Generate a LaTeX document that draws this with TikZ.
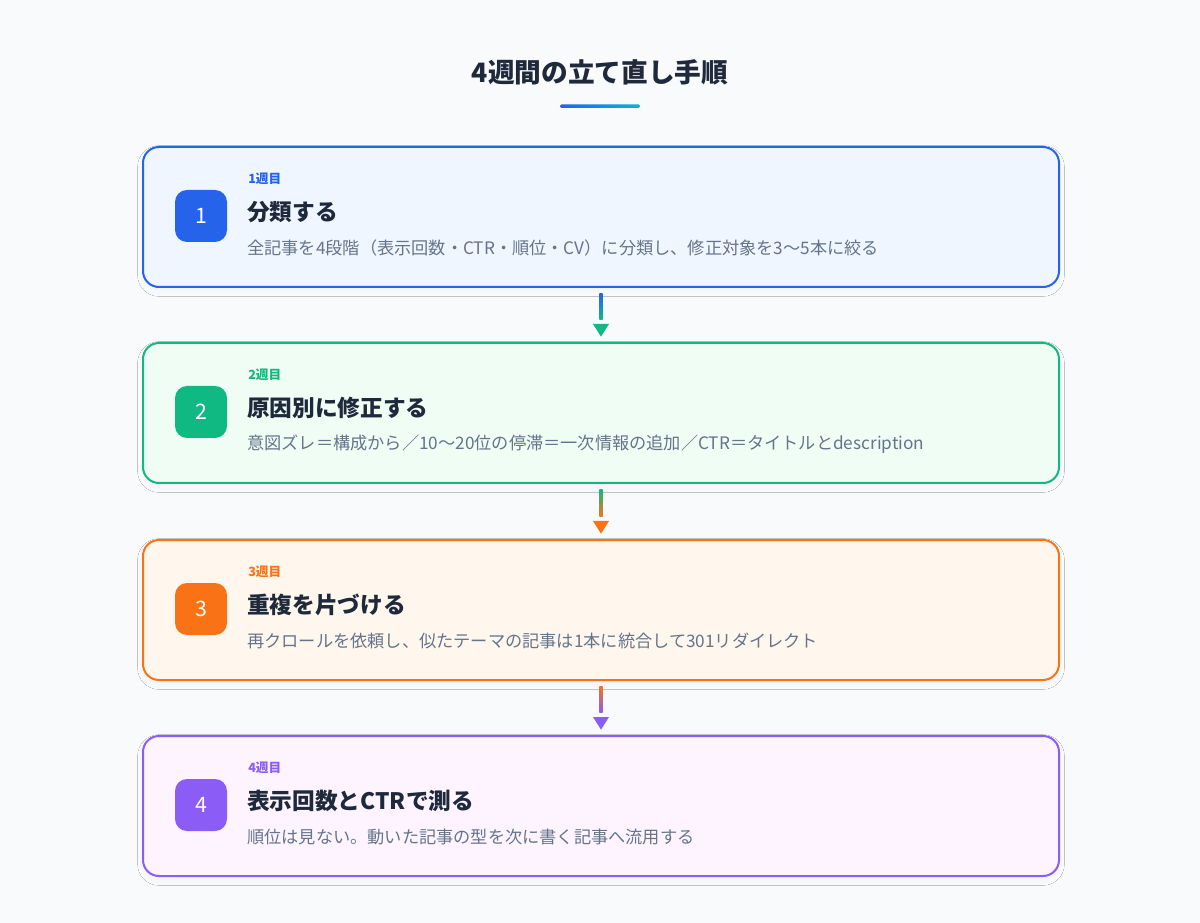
\documentclass[tikz,border=0pt]{standalone}
\usepackage{fontspec}
\setmainfont{Noto Sans CJK JP}
\usetikzlibrary{shadows.blur}
\definecolor{bg}{HTML}{F8FAFC}
\definecolor{ink}{HTML}{1E293B}
\definecolor{sub}{HTML}{64748B}
\definecolor{cA}{HTML}{2563EB}\definecolor{fA}{HTML}{EFF6FF}
\definecolor{cB}{HTML}{10B981}\definecolor{fB}{HTML}{F0FDF4}
\definecolor{cC}{HTML}{F97316}\definecolor{fC}{HTML}{FFF7ED}
\definecolor{cD}{HTML}{8B5CF6}\definecolor{fD}{HTML}{FDF4FF}
\definecolor{cyan}{HTML}{06B6D4}
\begin{document}
\begin{tikzpicture}[x=0.75pt,y=-0.75pt,
 box/.style={draw=#1,line width=1.5pt,rounded corners=12pt,minimum width=687pt,minimum height=105pt,anchor=north west,blur shadow={shadow blur steps=8,shadow blur radius=4pt,shadow xshift=0pt,shadow yshift=-3pt,shadow opacity=3}},
 badge/.style={fill=#1,rounded corners=9pt,minimum size=39pt,text=white,font=\fontsize{16}{16}\selectfont},
 wk/.style={text=#1,font=\bfseries\fontsize{9.5}{10}\selectfont,anchor=west,inner sep=0pt},
 ttl/.style={text=ink,font=\bfseries\fontsize{17}{18}\selectfont,anchor=west,inner sep=0pt},
 dsc/.style={text=sub,font=\fontsize{12.9}{14}\selectfont,anchor=west,inner sep=0pt}]
\useasboundingbox (0,0) rectangle (1200,923);
\fill[bg] (0,0) rectangle (1200,923);
\node[text=ink,font=\bfseries\fontsize{20}{22}\selectfont] (title) at (600,72) {4週間の立て直し手順};
\shade[left color=cA,right color=cyan,rounded corners=1pt] (560,104.5) rectangle (640,108);
\foreach \n/\c/\f/\y/\w/\t/\d in {
 1/cA/fA/146/1週目/分類する/全記事を4段階（表示回数・CTR・順位・CV）に分類し、修正対象を3〜5本に絞る,
 2/cB/fB/342/2週目/原因別に修正する/意図ズレ＝構成から／10〜20位の停滞＝一次情報の追加／CTR＝タイトルとdescription,
 3/cC/fC/539/3週目/重複を片づける/再クロールを依頼し、似たテーマの記事は1本に統合して301リダイレクト,
 4/cD/fD/735/4週目/表示回数とCTRで測る/順位は見ない。動いた記事の型を次に書く記事へ流用する}{
 \node[box=\c,fill=\f] (b\n) at (142,\y) {};
 \node[badge=\c] (n\n) at (201,\y+70) {\n};
 \node[wk=\c] (w\n) at (248,\y+33) {\w};
 \node[ttl] (t\n) at (247,\y+66) {\t};
 \node[dsc] (d\n) at (247,\y+102) {\d};
}
\foreach \a/\b/\ca/\cb in {1/2/cA/cB,2/3/cB/cC,3/4/cC/cD}{
 \coordinate (s\a) at ([yshift=-4pt]b\a.south);
 \coordinate (e\a) at ([yshift=9pt]b\b.north);
 \shade[top color=\ca,bottom color=\cb] ([xshift=-1.2pt]s\a) rectangle ([xshift=1.2pt,yshift=8pt]e\a);
 \fill[\cb] ([xshift=-6pt,yshift=4.5pt]e\a) -- ([xshift=6pt,yshift=4.5pt]e\a) -- ([yshift=-5pt]e\a) -- cycle;
}
\end{tikzpicture}
\end{document}
